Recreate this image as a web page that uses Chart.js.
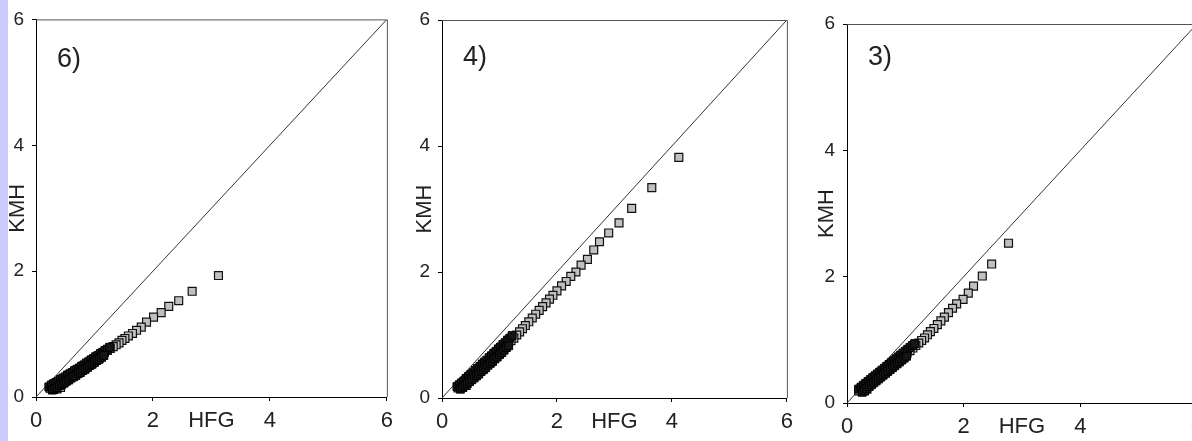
<!DOCTYPE html>
<html>
<head>
<meta charset="utf-8">
<script src="https://cdn.jsdelivr.net/npm/chart.js@4.4.1/dist/chart.umd.min.js"></script>
<style>
  html, body { margin: 0; padding: 0; background: #fff; }
  #wrap { position: relative; width: 1192px; height: 441px; overflow: hidden; background: #fff; }
  #strip { position: absolute; left: 0; top: 0; width: 8px; height: 441px; background: #ccccfa; }
  canvas { position: absolute; top: 0; }
</style>
</head>
<body>
<div id="wrap">
  <div id="strip"></div>
  <canvas id="c1" width="400" height="441" style="left:0px"></canvas>
  <canvas id="c2" width="400" height="441" style="left:400px"></canvas>
  <canvas id="c3" width="420" height="441" style="left:790px"></canvas>
</div>
<script>
// Drie QQ-achtige panelen: KMH tegen HFG, met de lijn y = x.

const panelLabels = ["6)", "4)", "3)"];
const axisTicks = [0, 2, 4, 6];
const diagX = [0, 6];
const diagY = [0, 6];

// paneel 6)
const hfg6 = [3.12, 2.67, 2.44, 2.27, 2.14, 2.01, 1.89, 1.80, 1.72, 1.65, 1.58, 1.52, 1.47, 1.42, 1.37,
  1.32, 1.27, 1.22, 1.17, 1.12, 1.08, 1.04, 1.00, 0.96, 0.92, 0.88, 0.84, 0.80, 0.76, 0.72, 0.68, 0.64,
  0.61, 0.58, 0.55, 0.52, 0.49, 0.46, 0.43, 0.40, 0.37, 0.34, 0.31, 0.28, 0.26, 0.24, 0.30, 0.36, 0.42];
const kmh6 = [1.93, 1.68, 1.53, 1.44, 1.34, 1.27, 1.19, 1.11, 1.06, 1.01, 0.97, 0.93, 0.90, 0.86, 0.83,
  0.80, 0.77, 0.74, 0.71, 0.68, 0.65, 0.62, 0.60, 0.57, 0.55, 0.52, 0.50, 0.47, 0.45, 0.42, 0.40, 0.37,
  0.35, 0.33, 0.31, 0.29, 0.27, 0.25, 0.23, 0.21, 0.19, 0.18, 0.17, 0.155, 0.145, 0.14, 0.12, 0.13, 0.15];
// dichte zwarte band (veel overlappende punten)
const hfg6Band = [0.22, 0.26, 0.30, 0.34, 0.38, 0.42, 0.46, 0.50, 0.54, 0.58, 0.62, 0.66, 0.70, 0.74, 0.78,
  0.82, 0.86, 0.90, 0.94, 0.98, 1.02, 1.06, 1.10, 1.14, 1.18, 1.22, 1.26,
  0.28, 0.32, 0.36, 0.40, 0.44, 0.48, 0.52, 0.56, 0.60, 0.64, 0.68, 0.72, 0.76, 0.80, 0.84, 0.88, 0.92,
  0.96, 1.00, 1.04, 1.08, 1.12, 1.16];
const kmh6Band = [0.16, 0.19, 0.21, 0.23, 0.25, 0.28, 0.30, 0.32, 0.35, 0.37, 0.39, 0.42, 0.44, 0.46, 0.49,
  0.51, 0.54, 0.56, 0.59, 0.61, 0.64, 0.66, 0.69, 0.71, 0.74, 0.76, 0.79,
  0.11, 0.13, 0.15, 0.18, 0.20, 0.22, 0.25, 0.27, 0.30, 0.32, 0.34, 0.37, 0.39, 0.42, 0.44, 0.47, 0.50,
  0.52, 0.55, 0.58, 0.60, 0.63, 0.66];

// paneel 4)
const hfg4 = [4.12, 3.65, 3.30, 3.08, 2.90, 2.74, 2.64, 2.53, 2.42, 2.33, 2.24, 2.16, 2.08, 2.00, 1.93,
  1.87, 1.81, 1.75, 1.69, 1.63, 1.57, 1.51, 1.45, 1.40, 1.35, 1.30, 1.25, 1.20, 1.15, 1.10, 1.05, 1.00,
  0.96, 0.92, 0.88, 0.84, 0.80, 0.76, 0.72, 0.68, 0.64, 0.60, 0.56, 0.52, 0.48, 0.45, 0.42, 0.39, 0.36,
  0.33, 0.30, 0.28, 0.36, 0.42];
const kmh4 = [3.82, 3.34, 3.01, 2.78, 2.62, 2.48, 2.35, 2.20, 2.11, 2.00, 1.93, 1.85, 1.78, 1.70, 1.63,
  1.57, 1.51, 1.45, 1.39, 1.33, 1.27, 1.21, 1.15, 1.10, 1.05, 1.00, 0.95, 0.91, 0.87, 0.83, 0.79, 0.75,
  0.71, 0.68, 0.64, 0.61, 0.57, 0.54, 0.51, 0.48, 0.45, 0.42, 0.39, 0.36, 0.33, 0.30, 0.28, 0.25, 0.23,
  0.20, 0.18, 0.16, 0.17, 0.20];
const hfg4Band = [0.26, 0.30, 0.34, 0.38, 0.42, 0.46, 0.50, 0.54, 0.58, 0.62, 0.66, 0.70, 0.74, 0.78, 0.82,
  0.86, 0.90, 0.94, 0.98, 1.02, 1.06, 1.10, 1.14, 1.18, 1.22,
  0.32, 0.36, 0.40, 0.44, 0.48, 0.52, 0.56, 0.60, 0.64, 0.68, 0.72, 0.76, 0.80, 0.84, 0.88, 0.92, 0.96,
  1.00, 1.04, 1.08, 1.12, 1.16];
const kmh4Band = [0.18, 0.21, 0.24, 0.27, 0.31, 0.34, 0.37, 0.40, 0.44, 0.47, 0.50, 0.54, 0.57, 0.60, 0.64,
  0.67, 0.71, 0.74, 0.78, 0.81, 0.85, 0.88, 0.92, 0.95, 0.99,
  0.14, 0.17, 0.20, 0.23, 0.26, 0.29, 0.32, 0.35, 0.38, 0.42, 0.45, 0.48, 0.52, 0.55, 0.58, 0.62, 0.65,
  0.69, 0.72, 0.76, 0.80, 0.83];

// paneel 3)
const hfg3 = [2.77, 2.48, 2.32, 2.17, 2.08, 1.99, 1.88, 1.81, 1.74, 1.67, 1.61, 1.55, 1.49, 1.43, 1.38,
  1.33, 1.28, 1.23, 1.18, 1.13, 1.08, 1.03, 0.98, 0.93, 0.88, 0.84, 0.80, 0.76, 0.72, 0.68, 0.64, 0.60,
  0.56, 0.52, 0.48, 0.45, 0.42, 0.39, 0.36, 0.33, 0.30, 0.27, 0.24, 0.22, 0.20, 0.30, 0.34];
const kmh3 = [2.53, 2.20, 2.01, 1.85, 1.74, 1.64, 1.57, 1.50, 1.43, 1.36, 1.30, 1.24, 1.18, 1.13, 1.08,
  1.03, 0.99, 0.95, 0.91, 0.87, 0.83, 0.79, 0.75, 0.72, 0.68, 0.65, 0.62, 0.59, 0.56, 0.53, 0.50, 0.47,
  0.44, 0.41, 0.38, 0.36, 0.34, 0.32, 0.30, 0.28, 0.26, 0.24, 0.22, 0.20, 0.19, 0.19, 0.22];
const hfg3Band = [0.20, 0.24, 0.28, 0.32, 0.36, 0.40, 0.44, 0.48, 0.52, 0.56, 0.60, 0.64, 0.68, 0.72, 0.76,
  0.80, 0.84, 0.88, 0.92, 0.96, 1.00, 1.04, 1.08, 1.12, 1.16,
  0.26, 0.30, 0.34, 0.38, 0.42, 0.46, 0.50, 0.54, 0.58, 0.62, 0.66, 0.70, 0.74, 0.78, 0.82, 0.86, 0.90,
  0.94, 0.98, 1.02];
const kmh3Band = [0.22, 0.25, 0.28, 0.31, 0.34, 0.37, 0.40, 0.43, 0.46, 0.49, 0.52, 0.55, 0.58, 0.61, 0.64,
  0.67, 0.70, 0.73, 0.76, 0.79, 0.82, 0.85, 0.88, 0.91, 0.94,
  0.17, 0.20, 0.23, 0.26, 0.29, 0.32, 0.35, 0.38, 0.41, 0.44, 0.47, 0.50, 0.53, 0.56, 0.59, 0.62, 0.65,
  0.68, 0.71, 0.74];

const FONT = '"Liberation Sans", Arial, sans-serif';
const INK = "#222";

// kader boven en rechts + het paneelnummer
const framePlugin = {
  id: "frame",
  afterDraw(chart, args, opts) {
    const { ctx, chartArea: a } = chart;
    ctx.save();
    ctx.strokeStyle = "#555";
    ctx.lineWidth = 1;
    ctx.beginPath();
    ctx.moveTo(a.left, a.top + 0.5);
    ctx.lineTo(a.right + 0.5, a.top + 0.5);
    ctx.lineTo(a.right + 0.5, a.bottom);
    ctx.stroke();
    ctx.fillStyle = INK;
    ctx.font = "27px " + FONT;
    ctx.textBaseline = "alphabetic";
    ctx.fillText(opts.label, a.left + 21, opts.labelY);
    ctx.restore();
  },
};

function toPoints(xs, ys) {
  return xs.map((x, i) => ({ x, y: ys[i] }));
}

function makePanel(id, xs, ys, bx, by, label, lay) {
  const axisBase = {
    type: "linear",
    min: 0,
    max: 6,
    afterBuildTicks: (s) => { s.ticks = axisTicks.map((v) => ({ value: v })); },
    grid: { display: true, drawOnChartArea: false, drawTicks: true, tickLength: 4, color: "#000" },
    border: { display: true, color: "#000", width: 1 },
  };
  return new Chart(document.getElementById(id), {
    type: "scatter",
    data: {
      datasets: [
        {
          // index 0 wordt als laatste getekend: zwarte band bovenop
          data: toPoints(bx, by),
          pointStyle: "rect",
          pointRadius: 5.6,
          backgroundColor: "#151515",
          borderColor: "#000",
          borderWidth: 1,
        },
        {
          data: toPoints(xs, ys),
          pointStyle: "rect",
          pointRadius: 5.6,
          backgroundColor: "#c0c0c0",
          borderColor: "#111",
          borderWidth: 1.2,
        },
        {
          data: toPoints(diagX, diagY),
          showLine: true,
          borderColor: "#333",
          borderWidth: 1,
          pointRadius: 0,
        },
      ],
    },
    options: {
      responsive: false,
      animation: false,
      events: [],
      layout: { padding: { left: 0, top: lay.top, right: lay.right, bottom: 0 } },
      plugins: {
        legend: { display: false },
        tooltip: { enabled: false },
        frame: { label, labelY: lay.labelY },
      },
      scales: {
        x: {
          ...axisBase,
          afterFit: (s) => { s.height = lay.xH; },
          ticks: { color: INK, padding: 7, maxRotation: 0, font: { family: FONT, size: 22 } },
          title: {
            display: true,
            text: "HFG",
            color: INK,
            font: { family: FONT, size: 22 },
            padding: { top: 0, bottom: Math.max(0, lay.xH - 24 - 13.2) },
          },
        },
        y: {
          ...axisBase,
          afterFit: (s) => { s.width = lay.yW; },
          ticks: { color: INK, padding: 8, font: { family: FONT, size: 19 } },
          title: {
            display: true,
            text: "KMH",
            color: INK,
            font: { family: FONT, size: 22 },
            padding: { top: lay.titleX - 13.2, bottom: 0 },
          },
        },
      },
    },
    plugins: [framePlugin],
  });
}

makePanel("c1", hfg6, kmh6, hfg6Band, kmh6Band, panelLabels[0],
  { top: 18, right: 13, xH: 44, yW: 36, titleX: 18, labelY: 67 });
makePanel("c2", hfg4, kmh4, hfg4Band, kmh4Band, panelLabels[1],
  { top: 20, right: 8, xH: 43, yW: 42, titleX: 25, labelY: 65 });
makePanel("c3", hfg3, kmh3, hfg3Band, kmh3Band, panelLabels[2],
  { top: 24, right: 13, xH: 38, yW: 57, titleX: 37, labelY: 65 });
</script>
</body>
</html>
